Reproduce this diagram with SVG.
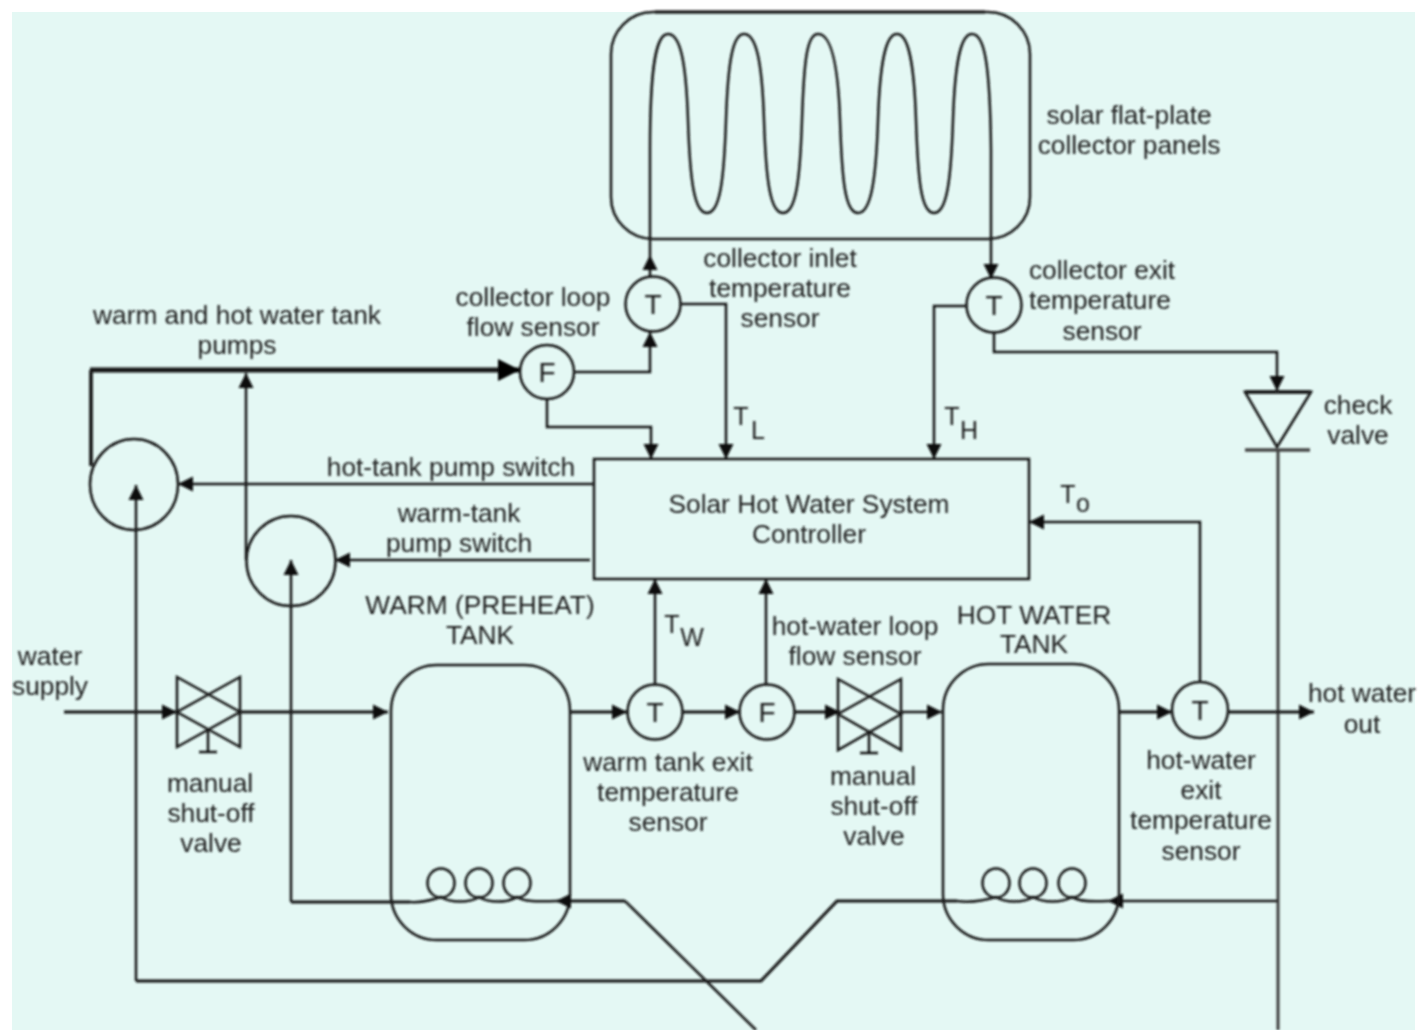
<svg xmlns="http://www.w3.org/2000/svg" width="1426" height="1030" viewBox="0 0 1426 1030">
<defs>
<marker id="ah" markerUnits="userSpaceOnUse" markerWidth="17" markerHeight="16" refX="15" refY="8" orient="auto"><path d="M0,0.5 L15,8 L0,15.5 Z" fill="#111"/></marker>
<marker id="ahb" markerUnits="userSpaceOnUse" markerWidth="24" markerHeight="24" refX="22" refY="12" orient="auto"><path d="M0,1 L22,12 L0,23 Z" fill="#000"/></marker>
<filter id="soft" x="0" y="0" width="1426" height="1030" filterUnits="userSpaceOnUse"><feGaussianBlur stdDeviation="0.8"/></filter>
</defs>
<style>
.s{fill:none;stroke:#141414;stroke-width:2.5}
.a{marker-end:url(#ah)}
.t{font-family:"Liberation Sans",Arial,sans-serif;font-size:26.3px;fill:#1f1f1f;text-anchor:middle}
.sym{font-family:"Liberation Sans",Arial,sans-serif;font-size:28px;fill:#1f1f1f;text-anchor:middle}
.sub{font-family:"Liberation Sans",Arial,sans-serif;font-size:25px;fill:#1f1f1f;text-anchor:middle}
.h{stroke-width:3.2}
</style>
<rect x="0" y="0" width="1426" height="1030" fill="#ffffff"/>
<rect x="12" y="12" width="1403" height="1018" fill="#e4f8f4"/>
<g filter="url(#soft)">
<g id="collector-panels">
<rect class="s" x="611" y="12" width="419" height="227" rx="42" ry="42"/>
<path class="s h" d="M655,12 L985,12"/>
<path class="s" d="M650,239 L650,150 C650,60 657,34 668,34 C680,34 686,60 688,120 C690,180 694,213 707,213 C720,213 724,180 726,120 C728,60 733,34 744,34 C756,34 762,60 764,120 C766,180 770,213 783,213 C796,213 800,180 802,120 C804,60 807,34 818,34 C830,34 838,60 840,120 C842,180 845,213 858,213 C871,213 876,180 878,120 C880,60 886,34 897,34 C908,34 914,60 916,120 C918,180 921,213 934,213 C947,213 951,180 953,120 C955,60 961,34 972,34 C984,34 990,60 991,150 L991,239"/>
<text class="t" x="1129" y="124">solar flat-plate</text>
<text class="t" x="1129" y="154">collector panels</text>
</g>
<g id="connectors">
<path class="s a" d="M650,277 L650,255"/>
<path class="s" d="M650,255 L650,239"/>
<path class="s a" d="M991,239 L991,279"/>
<path class="s a" d="M574,372 L650,372 L650,332"/>
<path class="s a" d="M681,304 L726,304 L726,459"/>
<path class="s a" d="M547,399 L547,427 L651,427 L651,459"/>
<path class="s a" d="M967,306 L934,306 L934,459"/>
<path class="s a" d="M994,332 L994,352 L1277,352 L1277,391"/>
<path class="s" d="M91,466 L91,370" style="stroke-width:3.6"/>
<path class="s" d="M90,370 L520,370" style="stroke-width:5;marker-end:url(#ahb)"/>
<path class="s a" d="M246,560 L246,373"/>
<path class="s a" d="M594,484 L178,484"/>
<path class="s a" d="M590,560 L335,560"/>
<path class="s a" d="M136,981 L136,485"/>
<path class="s a" d="M291,902 L291,560"/>
<path class="s h" d="M291,902 L410,902"/>
<path class="s h" d="M136,981 L761,981 L837,901 L957,901"/>
<path class="s h" d="M557,901 L625,901"/>
<path class="s" d="M625,901 L756,1030"/>
<path class="s a" d="M1278,901 L1108,901"/>
<path class="s" d="M1278,450 L1278,1030" style="stroke:#333;stroke-width:2.8"/>
<path class="s a h" d="M64,712 L177,712"/>
<path class="s a h" d="M240,712 L388,712"/>
<path class="s a h" d="M570,712 L627,712"/>
<path class="s a" d="M655,684 L655,579"/>
<path class="s a h" d="M683,712 L740,712"/>
<path class="s a" d="M766,684 L766,579"/>
<path class="s a h" d="M795,712 L840,712"/>
<path class="s a" d="M901,712 L942,712"/>
<path class="s a h" d="M1119,712 L1172,712"/>
<path class="s a" d="M1200,682 L1200,522 L1029,522"/>
<path class="s a h" d="M1228,712 L1314,712"/>
</g>
<g id="controller">
<rect class="s" x="594" y="459" width="435" height="120"/>
<text class="t" x="809" y="513">Solar Hot Water System</text>
<text class="t" x="809" y="543">Controller</text>
</g>
<g id="pump-hot"><ellipse class="s" cx="134" cy="484.5" rx="44" ry="45.5"/></g>
<g id="pump-warm"><ellipse class="s" cx="291" cy="561" rx="44.5" ry="45"/></g>
<g id="sensor-t-inlet"><circle class="s" cx="653" cy="304" r="27.5"/><text class="sym" x="653" y="314">T</text></g>
<g id="sensor-f-collector"><circle class="s" cx="547" cy="372" r="27"/><text class="sym" x="547" y="382">F</text></g>
<g id="sensor-t-exit"><circle class="s" cx="994" cy="305" r="27.5"/><text class="sym" x="994" y="315">T</text></g>
<g id="sensor-t-warm"><circle class="s" cx="655" cy="712" r="27.5"/><text class="sym" x="655" y="722">T</text></g>
<g id="sensor-f-hot"><circle class="s" cx="767" cy="712" r="27.5"/><text class="sym" x="767" y="722">F</text></g>
<g id="sensor-t-hot"><circle class="s" cx="1200" cy="710" r="28"/><text class="sym" x="1200" y="720">T</text></g>
<g id="check-valve">
<path class="s" d="M1245,392 L1311,392 L1277,447 Z"/>
<path class="s" d="M1245,392 L1311,392" style="stroke-width:3.6"/>
<path class="s" d="M1245,450 L1310,450" style="stroke:#444;stroke-width:3.6"/>
<text class="t" x="1358" y="414">check</text>
<text class="t" x="1358" y="444">valve</text>
</g>
<g id="valve-supply">
<path class="s" d="M177,677 L240,712 L177,747 Z M240,677 L177,712 L240,747 Z"/>
<path class="s" d="M208,730 L208,752 M199,752 L217,752"/>
<text class="t" x="210" y="792">manual</text>
<text class="t" x="211" y="822">shut-off</text>
<text class="t" x="211" y="852">valve</text>
</g>
<g id="valve-hot">
<path class="s" d="M838,679 L901,714 L838,750 Z M901,679 L838,714 L901,750 Z"/>
<path class="s" d="M869,732 L869,753 M860,753 L878,753"/>
<text class="t" x="873" y="785">manual</text>
<text class="t" x="874" y="815">shut-off</text>
<text class="t" x="874" y="845">valve</text>
</g>
<g id="warm-tank">
<rect class="s" x="391" y="665" width="179" height="275" rx="46" ry="46"/>
<ellipse class="s" cx="441" cy="883" rx="13.5" ry="14.5"/>
<ellipse class="s" cx="479" cy="883" rx="13.5" ry="14.5"/>
<ellipse class="s" cx="517" cy="883" rx="13.5" ry="14.5"/>
<path class="s" d="M410,902 C422,903 432,900 441,897 C450,903 470,903 479,897 C488,903 508,903 517,897 C526,903 545,901 557,901"/>
<path d="M571,893.5 L556,901 L571,908.5 Z" fill="#111"/>
<text class="t" x="480" y="614">WARM (PREHEAT)</text>
<text class="t" x="480" y="644">TANK</text>
</g>
<g id="hot-tank">
<rect class="s" x="943" y="664" width="176" height="276" rx="46" ry="46"/>
<ellipse class="s" cx="996" cy="883" rx="13.5" ry="14.5"/>
<ellipse class="s" cx="1033" cy="883" rx="13.5" ry="14.5"/>
<ellipse class="s" cx="1072" cy="883" rx="13.5" ry="14.5"/>
<path class="s" d="M957,901 C972,903 986,900 996,897 C1005,903 1024,903 1033,897 C1043,903 1062,903 1072,897 C1081,903 1098,901 1108,901"/>
<text class="t" x="1034" y="624">HOT WATER</text>
<text class="t" x="1034" y="653">TANK</text>
</g>
<g id="labels">
<text class="t" x="780" y="267">collector inlet</text>
<text class="t" x="780" y="297">temperature</text>
<text class="t" x="780" y="327">sensor</text>
<text class="t" x="1102" y="279">collector exit</text>
<text class="t" x="1100" y="309">temperature</text>
<text class="t" x="1102" y="340">sensor</text>
<text class="t" x="533" y="306">collector loop</text>
<text class="t" x="533" y="336">flow sensor</text>
<text class="t" x="237" y="324">warm and hot water tank</text>
<text class="t" x="237" y="354">pumps</text>
<text class="t" x="451" y="476">hot-tank pump switch</text>
<text class="t" x="459" y="522">warm-tank</text>
<text class="t" x="459" y="552">pump switch</text>
<text class="t" x="50" y="665">water</text>
<text class="t" x="50" y="695">supply</text>
<text class="t" x="668" y="771">warm tank exit</text>
<text class="t" x="668" y="801">temperature</text>
<text class="t" x="668" y="831">sensor</text>
<text class="t" x="855" y="635">hot-water loop</text>
<text class="t" x="855" y="665">flow sensor</text>
<text class="t" x="1201" y="769">hot-water</text>
<text class="t" x="1201" y="799">exit</text>
<text class="t" x="1201" y="829">temperature</text>
<text class="t" x="1201" y="860">sensor</text>
<text class="t" x="1362" y="702">hot water</text>
<text class="t" x="1362" y="733">out</text>
<text class="sub" x="741" y="425">T</text><text class="sub" x="758" y="439">L</text>
<text class="sub" x="952" y="425">T</text><text class="sub" x="969" y="439">H</text>
<text class="sub" x="1068" y="503">T</text><text class="sub" x="1083" y="512">o</text>
<text class="sub" x="672" y="633">T</text><text class="sub" x="692" y="646">W</text>
</g>
</g>
</svg>
